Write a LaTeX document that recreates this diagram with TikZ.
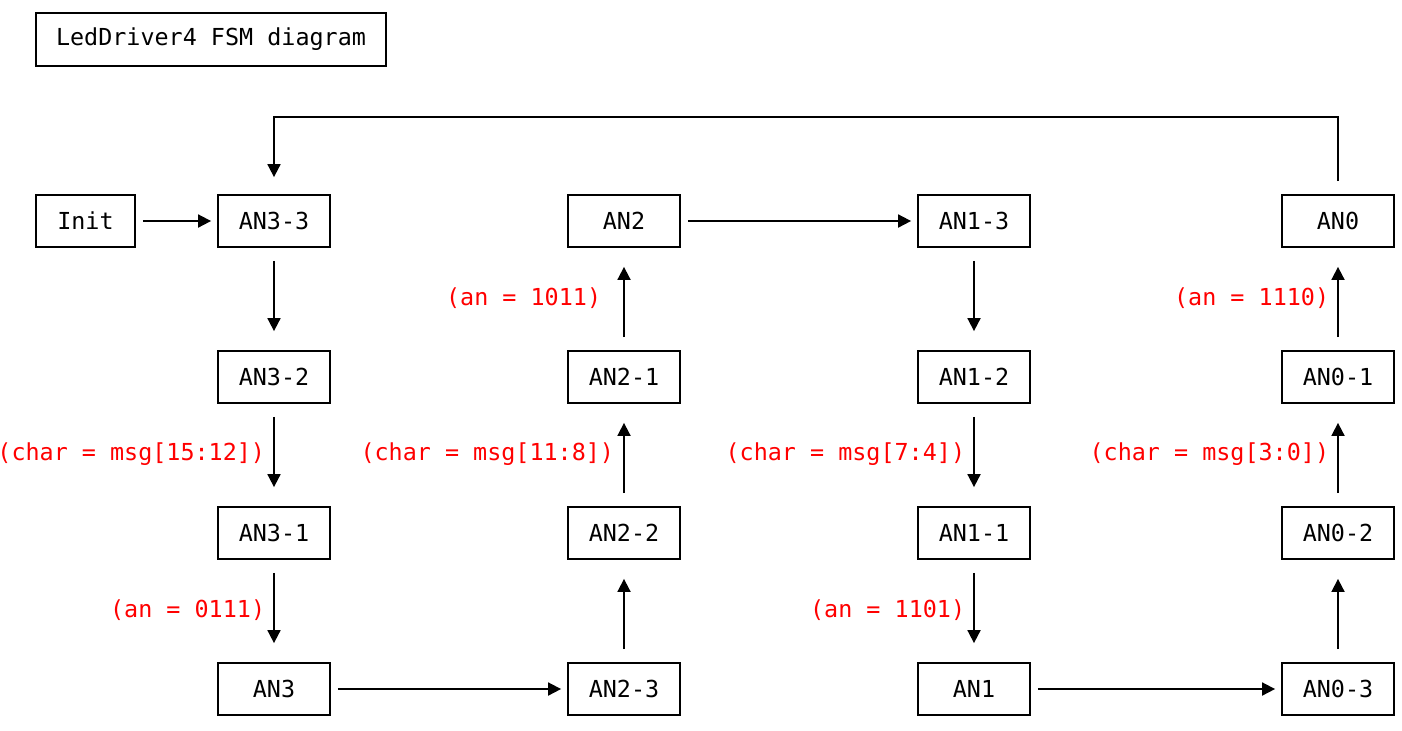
\documentclass[tikz,border=0pt]{standalone}
\usepackage{fontspec}
\setmonofont{DejaVu Sans Mono}
\usetikzlibrary{arrows.meta,calc}

\begin{document}
\begin{tikzpicture}[x=0.5pt,y=-0.5pt, line width=0.9pt,
    every node/.style={font=\ttfamily\fontsize{11.7}{14}\selectfont},
    state/.style={draw, minimum width=56pt, minimum height=26pt, inner sep=0pt},
    guard/.style={text=red, anchor=east, inner sep=0pt},
    arr/.style={-{Triangle[length=6.5pt,width=6.5pt]}},
    hop/.style={shorten <=3.5pt, shorten >=3pt},
    drop/.style={shorten <=6.5pt, shorten >=9.5pt}]
    \useasboundingbox (0,0) rectangle (1402,730);

    \node[state, minimum width=175pt, minimum height=26.5pt] (title) at (211,39.5) {LedDriver4 FSM diagram};

    % first row
    \node[state, minimum width=49.5pt] (init) at (85.5,221) {Init};
    \node[state] (an33) at (274,221) {AN3-3};
    \node[state] (an2) at (624,221) {AN2};
    \node[state] (an13) at (974,221) {AN1-3};
    \node[state] (an0) at (1338,221) {AN0};
    % second row
    \node[state] (an32) at (274,377) {AN3-2};
    \node[state] (an21) at (624,377) {AN2-1};
    \node[state] (an12) at (974,377) {AN1-2};
    \node[state] (an01) at (1338,377) {AN0-1};
    % third row
    \node[state] (an31) at (274,533) {AN3-1};
    \node[state] (an22) at (624,533) {AN2-2};
    \node[state] (an11) at (974,533) {AN1-1};
    \node[state] (an02) at (1338,533) {AN0-2};
    % last row
    \node[state] (an3) at (274,689) {AN3};
    \node[state] (an23) at (624,689) {AN2-3};
    \node[state] (an1) at (974,689) {AN1};
    \node[state] (an03) at (1338,689) {AN0-3};

    \draw[arr, hop] (init) -- (an33);
    \draw[arr, drop] (an33) -- (an32);
    \draw[arr, drop] (an32) -- (an31);
    \draw[arr, drop] (an31) -- (an3);
    \draw[arr, hop] (an3) -- (an23);
    \draw[arr, drop] (an23) -- (an22);
    \draw[arr, drop] (an22) -- (an21);
    \draw[arr, drop] (an21) -- (an2);
    \draw[arr, hop] (an2) -- (an13);
    \draw[arr, drop] (an13) -- (an12);
    \draw[arr, drop] (an12) -- (an11);
    \draw[arr, drop] (an11) -- (an1);
    \draw[arr, hop] (an1) -- (an03);
    \draw[arr, drop] (an03) -- (an02);
    \draw[arr, drop] (an02) -- (an01);
    \draw[arr, drop] (an01) -- (an0);
    % back to the start
    \draw[arr, shorten <=6.5pt, shorten >=8.5pt] (an0.north) -- ++(0,-77) -| (an33.north);

    \node[guard] (g32) at (266,454) {(char = msg[15:12])};
    \node[guard] (g31) at (266,610) {(an = 0111)};
    \node[guard] (g22) at (615,454) {(char = msg[11:8])};
    \node[guard] (g21) at (602,298) {(an = 1011)};
    \node[guard] (g12) at (966,454) {(char = msg[7:4])};
    \node[guard] (g11) at (966,610) {(an = 1101)};
    \node[guard] (g02) at (1330,454) {(char = msg[3:0])};
    \node[guard] (g01) at (1330,298) {(an = 1110)};
\end{tikzpicture}
\end{document}
